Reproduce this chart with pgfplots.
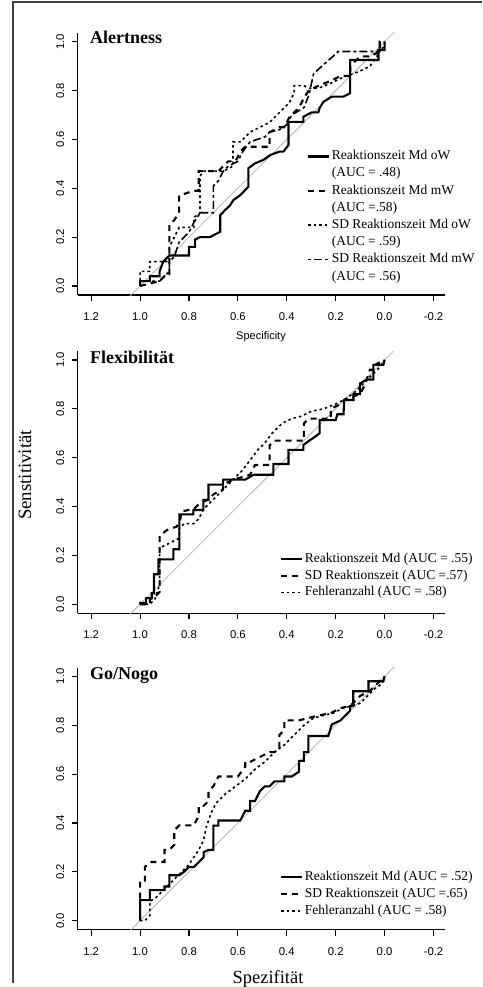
\documentclass[border=0pt]{standalone}
\usepackage{pgfplots}
\pgfplotsset{compat=1.18}
\usepackage{fontspec}
\setmainfont{Liberation Serif}
\newfontfamily\sansf{Liberation Sans}

\pgfplotsset{
  rocax/.style={
    scale only axis, width=367.3pt, height=262.1pt,
    xmin=-0.247, xmax=1.255, ymin=-0.037, ymax=1.036,
    x dir=reverse,
    axis x line=bottom, axis y line=left,
    axis line style={-, line width=1.1pt},
    xtick align=outside, ytick align=outside,
    major tick length=6pt,
    xtick={-0.2,0,0.2,0.4,0.6,0.8,1.0,1.2},
    xticklabels={-0.2,0.0,0.2,0.4,0.6,0.8,1.0,1.2},
    ytick={0,0.2,0.4,0.6,0.8,1},
    yticklabels={0.0,0.2,0.4,0.6,0.8,1.0},
    tick style={line width=1.1pt, black},
    /pgf/number format/assume math mode=true,
    tick label style={font=\sansf\fontsize{11.3}{13}\selectfont},
    yticklabel style={rotate=90, anchor=south},
    yticklabel shift=4pt,
    xticklabel style={yshift=-8pt},
    legend cell align=left,
    legend image code/.code={\draw[##1] (0pt,0pt) -- (19pt,0pt); \path (0pt,0pt) -- (21pt,0pt);},
  },
  diag/.style={gray!60, line width=0.8pt, forget plot},
  s1/.style={black, line width=2.1pt},
  s2/.style={black, line width=2.1pt, dash pattern=on 6pt off 5pt},
  s3/.style={black, line width=1.6pt, dash pattern=on 2.5pt off 3pt},
  s4/.style={black, line width=1.6pt, dash pattern=on 3pt off 3pt on 8pt off 3pt},
}

\begin{document}
\begin{tikzpicture}
\path (0pt,0pt) rectangle (482pt,987pt);
% frame
\draw[black!75, line width=1.5pt] (13pt,4pt) -- (13pt,985pt) -- (482pt,985pt);

% ---------------- Panel 1: Alertness
\begin{axis}[rocax, at={(77.7pt,691.96pt)}, anchor=south west,
  legend style={draw=none, fill=none, at={(0.6243,0.559)}, anchor=north west,
    font=\fontsize{13.5}{16}\selectfont, inner sep=0pt, row sep=1.7pt,
    nodes={inner sep=1.5pt, text height=9.5pt, text depth=3pt}}]
\addplot[diag] coordinates {(1.3,-0.3) (-0.3,1.3)};
\addplot[s1] coordinates {(1.00,0.00)(1.00,0.02)(0.96,0.02)(0.96,0.04)(0.92,0.04)(0.92,0.06)(0.905,0.10)(0.88,0.125)(0.80,0.125)(0.80,0.16)(0.775,0.16)(0.775,0.19)(0.755,0.20)(0.715,0.20)(0.672,0.222)(0.672,0.29)(0.652,0.311)(0.632,0.33)(0.618,0.352)(0.59,0.372)(0.57,0.393)(0.557,0.406)(0.557,0.482)(0.53,0.502)(0.496,0.516)(0.468,0.536)(0.43,0.55)(0.414,0.55)(0.393,0.577)(0.393,0.672)(0.332,0.672)(0.332,0.693)(0.298,0.711)(0.271,0.711)(0.265,0.73)(0.25,0.754)(0.216,0.775)(0.169,0.775)(0.141,0.789)(0.141,0.925)(0.025,0.925)(0.025,0.966)(0.0,0.966)(0.0,1.0)};
\addlegendentry{Reaktionszeit Md oW}
\addlegendimage{empty legend}\addlegendentry{(AUC = .48)}
\addplot[s2] coordinates {(1,0)(0.92,0.02)(0.90,0.04)(0.88,0.04)(0.88,0.25)(0.86,0.27)(0.84,0.30)(0.84,0.37)(0.78,0.39)(0.76,0.39)(0.76,0.47)(0.70,0.47)(0.68,0.47)(0.64,0.51)(0.61,0.51)(0.59,0.55)(0.57,0.57)(0.47,0.57)(0.47,0.63)(0.43,0.65)(0.41,0.65)(0.39,0.69)(0.35,0.73)(0.33,0.77)(0.31,0.80)(0.27,0.82)(0.22,0.84)(0.18,0.86)(0.14,0.86)(0.14,0.90)(0.10,0.94)(0.06,0.94)(0.02,0.96)(0.02,1.0)(0,1)};
\addlegendentry{Reaktionszeit Md mW}
\addlegendimage{empty legend}\addlegendentry{(AUC =.58)}
\addplot[s3] coordinates {(1,0)(1,0.06)(0.96,0.06)(0.96,0.10)(0.88,0.10)(0.88,0.16)(0.86,0.20)(0.84,0.24)(0.78,0.24)(0.78,0.28)(0.755,0.30)(0.755,0.45)(0.74,0.47)(0.66,0.47)(0.62,0.49)(0.62,0.59)(0.59,0.59)(0.55,0.63)(0.51,0.65)(0.47,0.67)(0.43,0.71)(0.39,0.75)(0.37,0.79)(0.37,0.82)(0.33,0.82)(0.31,0.81)(0.27,0.81)(0.22,0.83)(0.18,0.85)(0.10,0.88)(0.06,0.90)(0.03,0.94)(0.03,0.96)(0,0.98)(0,1)};
\addlegendentry{SD Reaktionszeit Md oW}
\addlegendimage{empty legend}\addlegendentry{(AUC = .59)}
\addplot[s4] coordinates {(1,0)(1,0.02)(0.92,0.02)(0.90,0.04)(0.88,0.06)(0.88,0.10)(0.86,0.12)(0.84,0.18)(0.80,0.22)(0.78,0.26)(0.76,0.29)(0.76,0.30)(0.70,0.30)(0.70,0.41)(0.68,0.43)(0.66,0.47)(0.64,0.49)(0.60,0.51)(0.58,0.55)(0.55,0.59)(0.49,0.61)(0.47,0.63)(0.43,0.64)(0.40,0.66)(0.38,0.70)(0.33,0.73)(0.31,0.78)(0.29,0.87)(0.20,0.95)(0.19,0.96)(0.02,0.96)(0.02,1.0)(0,1)};
\addlegendentry{SD Reaktionszeit Md mW}
\addlegendimage{empty legend}\addlegendentry{(AUC = .56)}
\end{axis}

% ---------------- Panel 2: Flexibilitaet
\begin{axis}[rocax, at={(77.7pt,373.7pt)}, anchor=south west,
  legend style={draw=none, fill=none, at={(0.551,0.237)}, anchor=north west,
    font=\fontsize{13.5}{16}\selectfont, inner sep=0pt, row sep=1.2pt,
    nodes={inner sep=1.5pt, text height=9.5pt, text depth=3pt}}]
\addplot[diag] coordinates {(1.3,-0.3) (-0.3,1.3)};
\addplot[s1] coordinates {(1,0)(1,0.005)(0.975,0.005)(0.975,0.025)(0.952,0.025)(0.952,0.045)(0.943,0.045)(0.943,0.123)(0.925,0.123)(0.925,0.184)(0.864,0.184)(0.864,0.225)(0.839,0.225)(0.839,0.368)(0.782,0.368)(0.782,0.386)(0.741,0.386)(0.741,0.427)(0.72,0.427)(0.72,0.49)(0.66,0.49)(0.66,0.51)(0.57,0.51)(0.536,0.53)(0.455,0.53)(0.455,0.574)(0.393,0.574)(0.393,0.632)(0.332,0.632)(0.332,0.652)(0.305,0.672)(0.284,0.686)(0.266,0.70)(0.266,0.754)(0.2,0.754)(0.193,0.778)(0.168,0.778)(0.165,0.836)(0.127,0.836)(0.127,0.86)(0.1,0.86)(0.1,0.904)(0.073,0.92)(0.046,0.92)(0.046,0.98)(0.005,0.98)(0,1)};
\addlegendentry{Reaktionszeit Md (AUC = .55)}
\addplot[s2] coordinates {(1,0)(0.96,0)(0.96,0.02)(0.94,0.03)(0.92,0.05)(0.92,0.28)(0.89,0.304)(0.85,0.318)(0.836,0.345)(0.83,0.38)(0.78,0.39)(0.76,0.41)(0.72,0.43)(0.70,0.45)(0.66,0.47)(0.66,0.49)(0.62,0.51)(0.55,0.53)(0.53,0.57)(0.47,0.57)(0.47,0.65)(0.45,0.67)(0.33,0.67)(0.33,0.74)(0.31,0.76)(0.22,0.76)(0.22,0.80)(0.18,0.82)(0.16,0.84)(0.10,0.86)(0.08,0.90)(0.06,0.96)(0.04,0.96)(0.04,0.98)(0,1)};
\addlegendentry{SD Reaktionszeit (AUC =.57)}
\addplot[s3] coordinates {(1,0)(0.96,0)(0.94,0.02)(0.92,0.08)(0.92,0.23)(0.88,0.25)(0.84,0.27)(0.84,0.31)(0.82,0.33)(0.78,0.33)(0.76,0.35)(0.74,0.39)(0.70,0.43)(0.66,0.47)(0.62,0.51)(0.58,0.55)(0.55,0.59)(0.52,0.63)(0.49,0.66)(0.46,0.70)(0.42,0.74)(0.38,0.76)(0.34,0.77)(0.30,0.79)(0.25,0.80)(0.20,0.82)(0.16,0.84)(0.12,0.87)(0.08,0.91)(0.06,0.93)(0.04,0.95)(0.02,0.97)(0,1)};
\addlegendentry{Fehleranzahl (AUC = .58)}
\end{axis}

% ---------------- Panel 3: Go/Nogo
\begin{axis}[rocax, at={(77.7pt,57.3pt)}, anchor=south west,
  legend style={draw=none, fill=none, at={(0.551,0.2297)}, anchor=north west,
    font=\fontsize{13.5}{16}\selectfont, inner sep=0pt, row sep=1.2pt,
    nodes={inner sep=1.5pt, text height=9.5pt, text depth=3pt}}]
\addplot[diag] coordinates {(1.3,-0.3) (-0.3,1.3)};
\addplot[s1] coordinates {(1,0)(1,0.084)(0.96,0.084)(0.96,0.125)(0.90,0.125)(0.90,0.14)(0.88,0.14)(0.88,0.186)(0.84,0.186)(0.82,0.20)(0.80,0.22)(0.78,0.22)(0.76,0.24)(0.74,0.26)(0.74,0.28)(0.72,0.29)(0.70,0.29)(0.70,0.389)(0.68,0.389)(0.68,0.41)(0.59,0.41)(0.58,0.43)(0.57,0.45)(0.55,0.45)(0.55,0.49)(0.53,0.49)(0.51,0.53)(0.49,0.55)(0.47,0.55)(0.45,0.57)(0.41,0.57)(0.41,0.59)(0.38,0.59)(0.35,0.61)(0.35,0.654)(0.33,0.654)(0.33,0.69)(0.312,0.69)(0.312,0.756)(0.23,0.756)(0.216,0.803)(0.18,0.82)(0.16,0.84)(0.141,0.86)(0.141,0.878)(0.128,0.878)(0.128,0.939)(0.066,0.939)(0.066,0.98)(0.005,0.98)(0,1)};
\addlegendentry{Reaktionszeit Md (AUC = .52)}
\addplot[s2] coordinates {(1,0)(1,0.16)(0.98,0.16)(0.98,0.22)(0.96,0.24)(0.90,0.24)(0.90,0.29)(0.88,0.29)(0.86,0.31)(0.86,0.37)(0.84,0.39)(0.78,0.39)(0.76,0.43)(0.76,0.47)(0.74,0.47)(0.72,0.49)(0.72,0.53)(0.70,0.55)(0.68,0.59)(0.60,0.59)(0.57,0.63)(0.57,0.65)(0.55,0.65)(0.51,0.67)(0.47,0.69)(0.45,0.69)(0.43,0.71)(0.43,0.76)(0.41,0.78)(0.41,0.82)(0.35,0.82)(0.31,0.83)(0.27,0.84)(0.22,0.85)(0.18,0.87)(0.14,0.88)(0.12,0.90)(0.10,0.92)(0.06,0.94)(0.04,0.96)(0.02,0.98)(0,1)};
\addlegendentry{SD Reaktionszeit (AUC =.65)}
\addplot[s3] coordinates {(1,0)(0.98,0)(0.96,0.02)(0.96,0.08)(0.94,0.09)(0.92,0.11)(0.88,0.15)(0.84,0.19)(0.80,0.23)(0.78,0.26)(0.76,0.29)(0.74,0.33)(0.73,0.38)(0.71,0.44)(0.69,0.48)(0.65,0.52)(0.61,0.55)(0.57,0.58)(0.53,0.62)(0.49,0.65)(0.45,0.69)(0.41,0.72)(0.37,0.76)(0.33,0.80)(0.29,0.83)(0.25,0.84)(0.21,0.85)(0.17,0.87)(0.13,0.88)(0.10,0.89)(0.07,0.92)(0.04,0.95)(0.01,0.97)(0,1)};
\addlegendentry{Fehleranzahl (AUC = .58)}
\end{axis}

% titles and labels
\node[anchor=base west, inner sep=0pt, font=\bfseries\fontsize{18}{20}\selectfont] at (90pt,943.7pt) {Alertness};
\node[anchor=base west, inner sep=0pt, font=\bfseries\fontsize{18}{20}\selectfont] at (90pt,623.7pt) {Flexibilität};
\node[anchor=base west, inner sep=0pt, font=\bfseries\fontsize{18}{20}\selectfont] at (90pt,307pt) {Go/Nogo};
\node[inner sep=0pt, font=\sansf\fontsize{11}{13}\selectfont] at (261pt,650.3pt) {Specificity};
\node[anchor=base, inner sep=0pt, font=\fontsize{18.5}{20}\selectfont] at (268pt,4pt) {Spezifität};
\node[rotate=90, inner sep=0pt, font=\fontsize{18.8}{20}\selectfont] at (25pt,512pt) {Senstitivität};
\end{tikzpicture}
\end{document}
